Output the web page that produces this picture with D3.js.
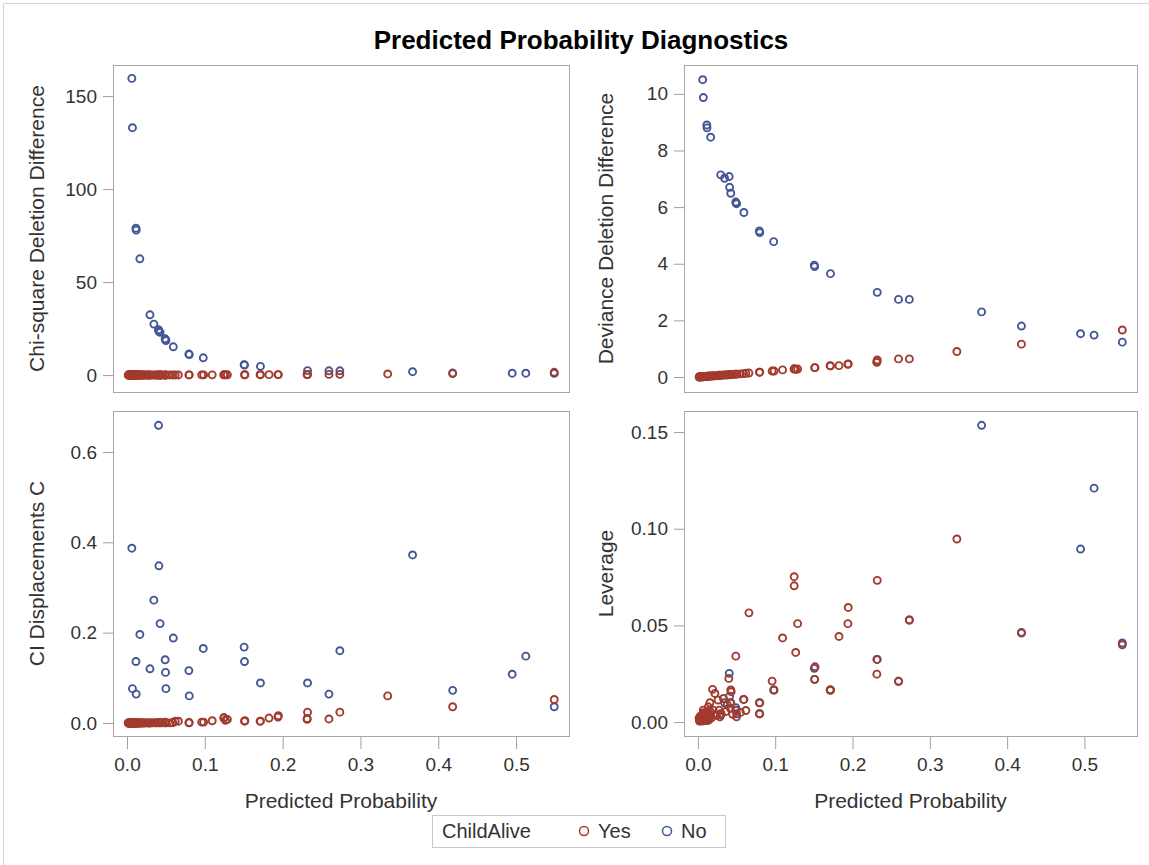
<!DOCTYPE html>
<html>
<head>
<meta charset="utf-8">
<script src="https://cdn.jsdelivr.net/npm/d3@7"></script>
<style>
  body { margin: 0; background: #fff; }
  text { font-family: "Liberation Sans", Arial, sans-serif; }
</style>
</head>
<body>
<div class="chart"></div>
<script>
// ChildAlive = No (blue)
var noProb = [0.0062, 0.0070, 0.0115, 0.0118, 0.0165, 0.0295, 0.0345, 0.0405, 0.0410, 0.0425, 0.0490, 0.0495, 0.0500, 0.0595, 0.0795, 0.0800, 0.0980, 0.1505, 0.1510, 0.1715, 0.2320, 0.2595, 0.2735, 0.3670, 0.4185, 0.4950, 0.5125, 0.5490];
var noChiSq = [159.5, 133, 79, 78, 62.5, 32.4, 27.4, 24.4, 23.5, 23, 19.5, 19, 18.5, 15.2, 11.3, 11, 9.3, 5.6, 5.4, 4.7, 2.4, 2.3, 2.3, 1.8, 1.1, 1.0, 1.0, 0.9];
var noDeviance = [10.5, 9.87, 8.9, 8.8, 8.47, 7.14, 7.02, 7.08, 6.70, 6.49, 6.18, 6.15, 6.12, 5.81, 5.16, 5.10, 4.78, 3.95, 3.90, 3.65, 2.99, 2.74, 2.74, 2.30, 1.80, 1.53, 1.48, 1.23];
var noConfDisp = [0.387, 0.076, 0.136, 0.064, 0.196, 0.120, 0.272, 0.659, 0.348, 0.220, 0.140, 0.112, 0.076, 0.188, 0.116, 0.060, 0.165, 0.168, 0.136, 0.0886, 0.0886, 0.064, 0.160, 0.372, 0.0723, 0.108, 0.148, 0.036];
var noLeverage = [0.0024, 0.0006, 0.0017, 0.0008, 0.0031, 0.0037, 0.0100, 0.0252, 0.0134, 0.0099, 0.0075, 0.0062, 0.0043, 0.0117, 0.0100, 0.0043, 0.0166, 0.0278, 0.0221, 0.0166, 0.0324, 0.0211, 0.0528, 0.1535, 0.0464, 0.0895, 0.121, 0.0409];

// ChildAlive = Yes (red)
var yesProb = [0.549, 0.4185, 0.335, 0.2735, 0.2595, 0.232, 0.2315, 0.2315,
  0.1945, 0.194, 0.1825, 0.171, 0.1715,
  0.1515, 0.151, 0.129, 0.1265, 0.1245, 0.1245,
  0.1095, 0.0985, 0.096, 0.08, 0.0795,
  0.066, 0.059, 0.049, 0.05, 0.049,
  0.0425, 0.042, 0.042, 0.04, 0.043,
  0.033, 0.0285, 0.0275, 0.026, 0.022,
  0.019, 0.0198, 0.0155, 0.0134, 0.0069,
  0.002, 0.0025, 0.003, 0.0035, 0.004, 0.0045,
  0.005, 0.0055, 0.006, 0.0065, 0.0075, 0.008,
  0.009, 0.01, 0.011, 0.012, 0.013,
  0.0145, 0.016, 0.0175, 0.021, 0.024,
  0.03, 0.036, 0.038, 0.045, 0.055, 0.062,
  0.0015, 0.0028, 0.0042, 0.0058, 0.0072,
  0.0085, 0.0095, 0.0105, 0.0125, 0.014];
var yesChiSq = [1.5, 0.8, 0.6, 0.4, 0.36, 0.33, 0.31, 0.31,
  0.26, 0.25, 0.23, 0.21, 0.21,
  0.18, 0.18, 0.15, 0.15, 0.15, 0.15,
  0.12, 0.11, 0.11, 0.09, 0.09,
  0.07, 0.06, 0.05, 0.05, 0.05,
  0.04, 0.04, 0.04, 0.04, 0.05,
  0.03, 0.03, 0.03, 0.03, 0.02,
  0.02, 0.02, 0.02, 0.01, 0.01,
  0, 0, 0, 0, 0, 0,
  0.01, 0.01, 0.01, 0.01, 0.01, 0.01,
  0.01, 0.01, 0.01, 0.01, 0.01,
  0.01, 0.02, 0.02, 0.02, 0.02,
  0.03, 0.04, 0.04, 0.05, 0.06, 0.07,
  0, 0, 0, 0.01, 0.01,
  0.01, 0.01, 0.01, 0.01, 0.01];
var yesDeviance = [1.66, 1.16, 0.90, 0.64, 0.64, 0.60, 0.54, 0.52,
  0.46, 0.45, 0.40, 0.40, 0.39,
  0.33, 0.33, 0.28, 0.27, 0.29, 0.28,
  0.25, 0.21, 0.21, 0.17, 0.17,
  0.14, 0.12, 0.10, 0.10, 0.10,
  0.09, 0.09, 0.09, 0.08, 0.09,
  0.07, 0.06, 0.06, 0.05, 0.04,
  0.04, 0.04, 0.03, 0.03, 0.01,
  0.00, 0.01, 0.01, 0.01, 0.01, 0.01,
  0.01, 0.01, 0.01, 0.01, 0.02, 0.02,
  0.02, 0.02, 0.02, 0.02, 0.03,
  0.03, 0.03, 0.04, 0.04, 0.05,
  0.06, 0.07, 0.08, 0.09, 0.11, 0.13,
  0, 0.01, 0.01, 0.01, 0.01,
  0.02, 0.02, 0.02, 0.03, 0.03];
var yesConfDisp = [0.052, 0.036, 0.060, 0.024, 0.009, 0.024, 0.010, 0.008,
  0.016, 0.013, 0.011, 0.004, 0.004,
  0.005, 0.004, 0.008, 0.006, 0.012, 0.011,
  0.005, 0.002, 0.002, 0.001, 0.0005,
  0.004, 0.001, 0.002, 0.0002, 0.0003,
  0.0007, 0.0004, 0.0003, 0.0009, 0.0007,
  0.0004, 0.0001, 0.0002, 0.0003, 0.0003,
  0.0003, 0.0001, 0.0002, 0.0001, 0,
  0, 0, 0, 0, 0, 0,
  0, 0, 0, 0, 0, 0,
  0, 0, 0.0001, 0, 0.0001,
  0, 0.0001, 0, 0.0001, 0.0001,
  0.0001, 0.0002, 0.0004, 0.0002, 0.0003, 0.004,
  0, 0, 0, 0, 0,
  0, 0, 0, 0, 0];
var yesLeverage = [0.040, 0.046, 0.0947, 0.0528, 0.0211, 0.0733, 0.0324, 0.0248,
  0.0593, 0.0509, 0.0443, 0.0166, 0.0166,
  0.0286, 0.0221, 0.0509, 0.036, 0.0752, 0.0705,
  0.0435, 0.0166, 0.0212, 0.010, 0.0043,
  0.0565, 0.0117, 0.0341, 0.0027, 0.0062,
  0.0166, 0.010, 0.0071, 0.0226, 0.0157,
  0.0122, 0.0027, 0.0062, 0.0114, 0.0148,
  0.0169, 0.0062, 0.010, 0.0079, 0.0062,
  0.0005, 0.0010, 0.0008, 0.0015, 0.0020, 0.0012,
  0.0030, 0.0018, 0.0040, 0.0025, 0.0035, 0.0015,
  0.0045, 0.0028, 0.0050, 0.0020, 0.0040,
  0.0032, 0.0055, 0.0022, 0.0040, 0.0035,
  0.0045, 0.0055, 0.0090, 0.0040, 0.0050, 0.0060,
  0.0020, 0.0030, 0.0005, 0.0012, 0.0048,
  0.0008, 0.0038, 0.0015, 0.0058, 0.0010];

var probTicks = [0, 0.1, 0.2, 0.3, 0.4, 0.5];
var chiTicks = [0, 50, 100, 150];
var devTicks = [0, 2, 4, 6, 8, 10];
var confTicks = [0, 0.2, 0.4, 0.6];
var levTicks = [0, 0.05, 0.10, 0.15];

var groups = ['Yes', 'No'];
var colors = { Yes: '#A23A2E', No: '#445694' };

var panels = [
  { no: noChiSq, yes: yesChiSq, ticks: chiTicks, fmt: d3.format('d'), label: 'Chi-square Deletion Difference',
    left: 113, top: 65, width: 456, height: 327, yDomain: [-9.1, 166.7], labelX: 36, xAxis: false },
  { no: noDeviance, yes: yesDeviance, ticks: devTicks, fmt: d3.format('d'), label: 'Deviance Deletion Difference',
    left: 684, top: 65, width: 453, height: 327, yDomain: [-0.53, 11.02], labelX: 605, xAxis: false },
  { no: noConfDisp, yes: yesConfDisp, ticks: confTicks, fmt: d3.format('.1f'), label: 'CI Displacements C',
    left: 113, top: 411, width: 456, height: 325, yDomain: [-0.0288, 0.6907], labelX: 36, xAxis: true },
  { no: noLeverage, yes: yesLeverage, ticks: levTicks, fmt: d3.format('.2f'), label: 'Leverage',
    left: 684, top: 411, width: 453, height: 325, yDomain: [-0.0072, 0.1609], labelX: 605, xAxis: true }
];

var svg = d3.select('.chart').append('svg')
            .attr('width', 1149)
            .attr('height', 865);

// outer border of the graph
svg.append('path')
   .attr('d', 'M3.5,865 L3.5,3.5 L1149,3.5')
   .attr('fill', 'none')
   .attr('stroke', '#d4d4d4');

svg.append('text')
   .attr('x', 581).attr('y', 40)
   .attr('text-anchor', 'middle')
   .attr('dominant-baseline', 'central')
   .attr('font-size', '26px')
   .attr('font-weight', 'bold')
   .attr('fill', '#000')
   .text('Predicted Probability Diagnostics');

function drawPanel(p) {
  var x = d3.scaleLinear().domain([-0.018, 0.568]).range([p.left, p.left + p.width]);
  var y = d3.scaleLinear().domain(p.yDomain).range([p.top + p.height, p.top]);
  var g = svg.append('g');

  var yAxis = g.append('g')
     .attr('transform', 'translate(' + p.left + ',0)')
     .call(d3.axisLeft(y).tickValues(p.ticks).tickFormat(p.fmt).tickSize(10).tickPadding(6));
  yAxis.select('.domain').remove();
  yAxis.selectAll('line').attr('stroke', '#a0a0a0');
  yAxis.selectAll('text').attr('font-size', '19px').attr('fill', '#333').style('font-family', '"Liberation Sans", Arial, sans-serif');

  if (p.xAxis) {
    var xAxis = g.append('g')
       .attr('transform', 'translate(0,' + (p.top + p.height) + ')')
       .call(d3.axisBottom(x).tickValues(probTicks).tickFormat(d3.format('.1f')).tickSize(13).tickPadding(9));
    xAxis.select('.domain').remove();
    xAxis.selectAll('line').attr('stroke', '#a0a0a0');
    xAxis.selectAll('text').attr('font-size', '19px').attr('fill', '#333').style('font-family', '"Liberation Sans", Arial, sans-serif');

    g.append('text')
     .attr('x', p.left + p.width / 2).attr('y', 800)
     .attr('text-anchor', 'middle')
     .attr('dominant-baseline', 'central')
     .attr('font-size', '21px')
     .attr('fill', '#333')
     .text('Predicted Probability');
  }

  g.append('text')
   .attr('transform', 'translate(' + p.labelX + ',' + (p.top + p.height / 2) + ') rotate(-90)')
   .attr('text-anchor', 'middle')
   .attr('dominant-baseline', 'central')
   .attr('font-size', '21px')
   .attr('fill', '#333')
   .text(p.label);

  g.append('rect')
   .attr('x', p.left + 0.5).attr('y', p.top + 0.5)
   .attr('width', p.width).attr('height', p.height)
   .attr('fill', 'none')
   .attr('stroke', '#a8a8a8');

  // blue group first, red drawn over it
  g.selectAll('circle.no')
   .data(noProb)
   .enter().append('circle')
     .attr('class', 'no')
     .attr('cx', function(d){ return x(d); })
     .attr('cy', function(d, i){ return y(p.no[i]); })
     .attr('r', 3.5)
     .attr('fill', 'none')
     .attr('stroke', colors.No)
     .attr('stroke-width', 1.9);

  g.selectAll('circle.yes')
   .data(yesProb)
   .enter().append('circle')
     .attr('class', 'yes')
     .attr('cx', function(d){ return x(d); })
     .attr('cy', function(d, i){ return y(p.yes[i]); })
     .attr('r', 3.5)
     .attr('fill', 'none')
     .attr('stroke', colors.Yes)
     .attr('stroke-width', 1.9);
}

panels.forEach(drawPanel);

// legend
var legend = svg.append('g');
legend.append('rect')
      .attr('x', 432.5).attr('y', 815.5)
      .attr('width', 293).attr('height', 32)
      .attr('fill', 'none')
      .attr('stroke', '#c8c8c8');
legend.append('text')
      .attr('x', 442).attr('y', 831)
      .attr('dominant-baseline', 'central')
      .attr('font-size', '20px')
      .attr('fill', '#333')
      .text('ChildAlive');
var legendX = { Yes: 584, No: 667 };
groups.forEach(function(k) {
  legend.append('circle')
        .attr('cx', legendX[k]).attr('cy', 831)
        .attr('r', 4.5)
        .attr('fill', 'none')
        .attr('stroke', colors[k])
        .attr('stroke-width', 1.5);
  legend.append('text')
        .attr('x', legendX[k] + 14).attr('y', 831)
        .attr('dominant-baseline', 'central')
        .attr('font-size', '20px')
        .attr('fill', '#333')
        .text(k);
});
</script>
</body>
</html>
